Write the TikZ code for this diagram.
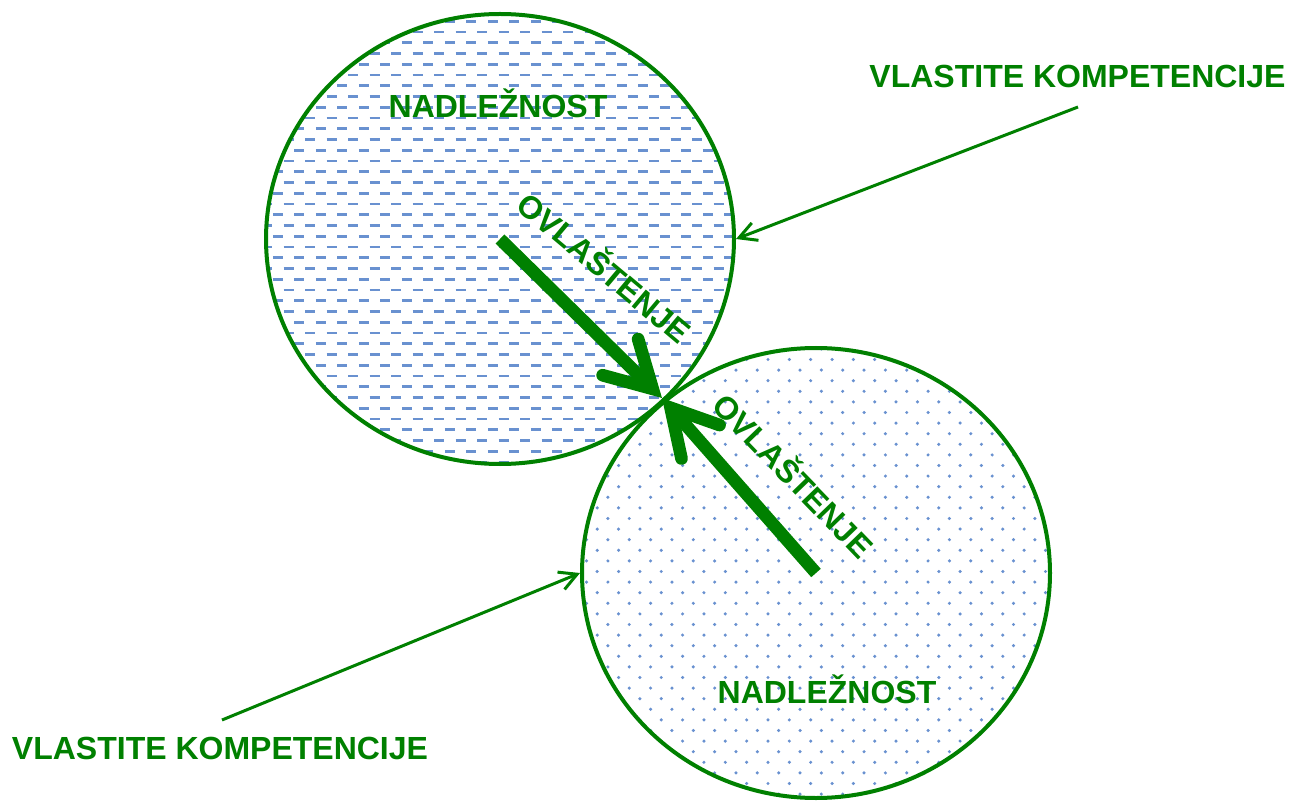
\documentclass[tikz,border=0pt]{standalone}
\usepackage{fontspec}
\setmainfont{Liberation Sans}
\usepackage{xcolor}
\usepackage{tikz}
\usetikzlibrary{positioning, arrows.meta, shapes.geometric}

\definecolor{leafgreen}{RGB}{0,128,0}
\definecolor{hatchblue}{RGB}{105,145,208}

\begin{document}
\begin{tikzpicture}[
    x=0.75pt, y=-0.75pt,
    region/.style={ellipse, draw=leafgreen, line width=3pt, inner sep=0pt, minimum width=351pt, minimum height=337.5pt},
    caption/.style={text=leafgreen, font=\fontsize{24}{28}\selectfont\bfseries, text height=17.2pt, text depth=0pt, inner sep=0pt},
    mandate/.style={draw=leafgreen, line width=9.5pt, -{Straight Barb[length=34pt, width=38pt, line cap=round]}},
    pointer/.style={draw=leafgreen, line width=2.25pt, -{Straight Barb[length=13pt, width=14pt]}},
    dashrow/.style={draw=hatchblue, line width=2pt, dash pattern=on 7.5pt off 8.625pt},
    dotrow/.style={draw=hatchblue, line width=2.6pt, line cap=round, dash pattern=on 0pt off 16.01pt}
]
\useasboundingbox (0,0) rectangle (1293,802);

% Fill patterns of the two regions
\begin{scope}
  \clip (500,239) ellipse [x radius=234, y radius=225];
  \foreach \r [evaluate=\r as \yy using {10.5+\r*10.75}, evaluate=\r as \xx using {262.2-mod(\r,2)*10.75}] in {0,...,43}{
    \draw[dashrow] (\xx,\yy) -- (750,\yy);
  }
\end{scope}
\begin{scope}
  \clip (816,573) ellipse [x radius=234, y radius=225];
  \foreach \r [evaluate=\r as \yy using {348.9+\r*10.6}, evaluate=\r as \xx using {565.2+mod(\r,2)*10.67}] in {0,...,43}{
    \draw[dotrow] (\xx,\yy) -- (1070,\yy);
  }
\end{scope}

% Regions
\node[region] (upper) at (500,239) {};
\node[region] (lower) at (816,573) {};
\coordinate (touch) at (662,398);

% Region captions
\node[caption] (upperduty) at (498,106) {NADLEŽNOST};
\node[caption] (lowerduty) at (827,692) {NADLEŽNOST};
\node[caption, rotate=-40] (upperauth) at (604,268) {OVLAŠTENJE};
\node[caption, rotate=-46] (lowerauth) at (793,476) {OVLAŠTENJE};

% Outside captions
\node[caption] (ownright) at (1077.5,75.8) {VLASTITE KOMPETENCIJE};
\node[caption] (ownleft) at (220,748.5) {VLASTITE KOMPETENCIJE};
\coordinate (ownrighttail) at (1078,107);
\coordinate (ownlefttail) at (222,720);

% Arrows
\draw[mandate] (upper.center) -- (touch);
\draw[mandate] (lower.center) -- (touch);
\draw[pointer] (ownrighttail) -- (upper.east);
\draw[pointer] (ownlefttail) -- (lower.west);

\end{tikzpicture}
\end{document}
